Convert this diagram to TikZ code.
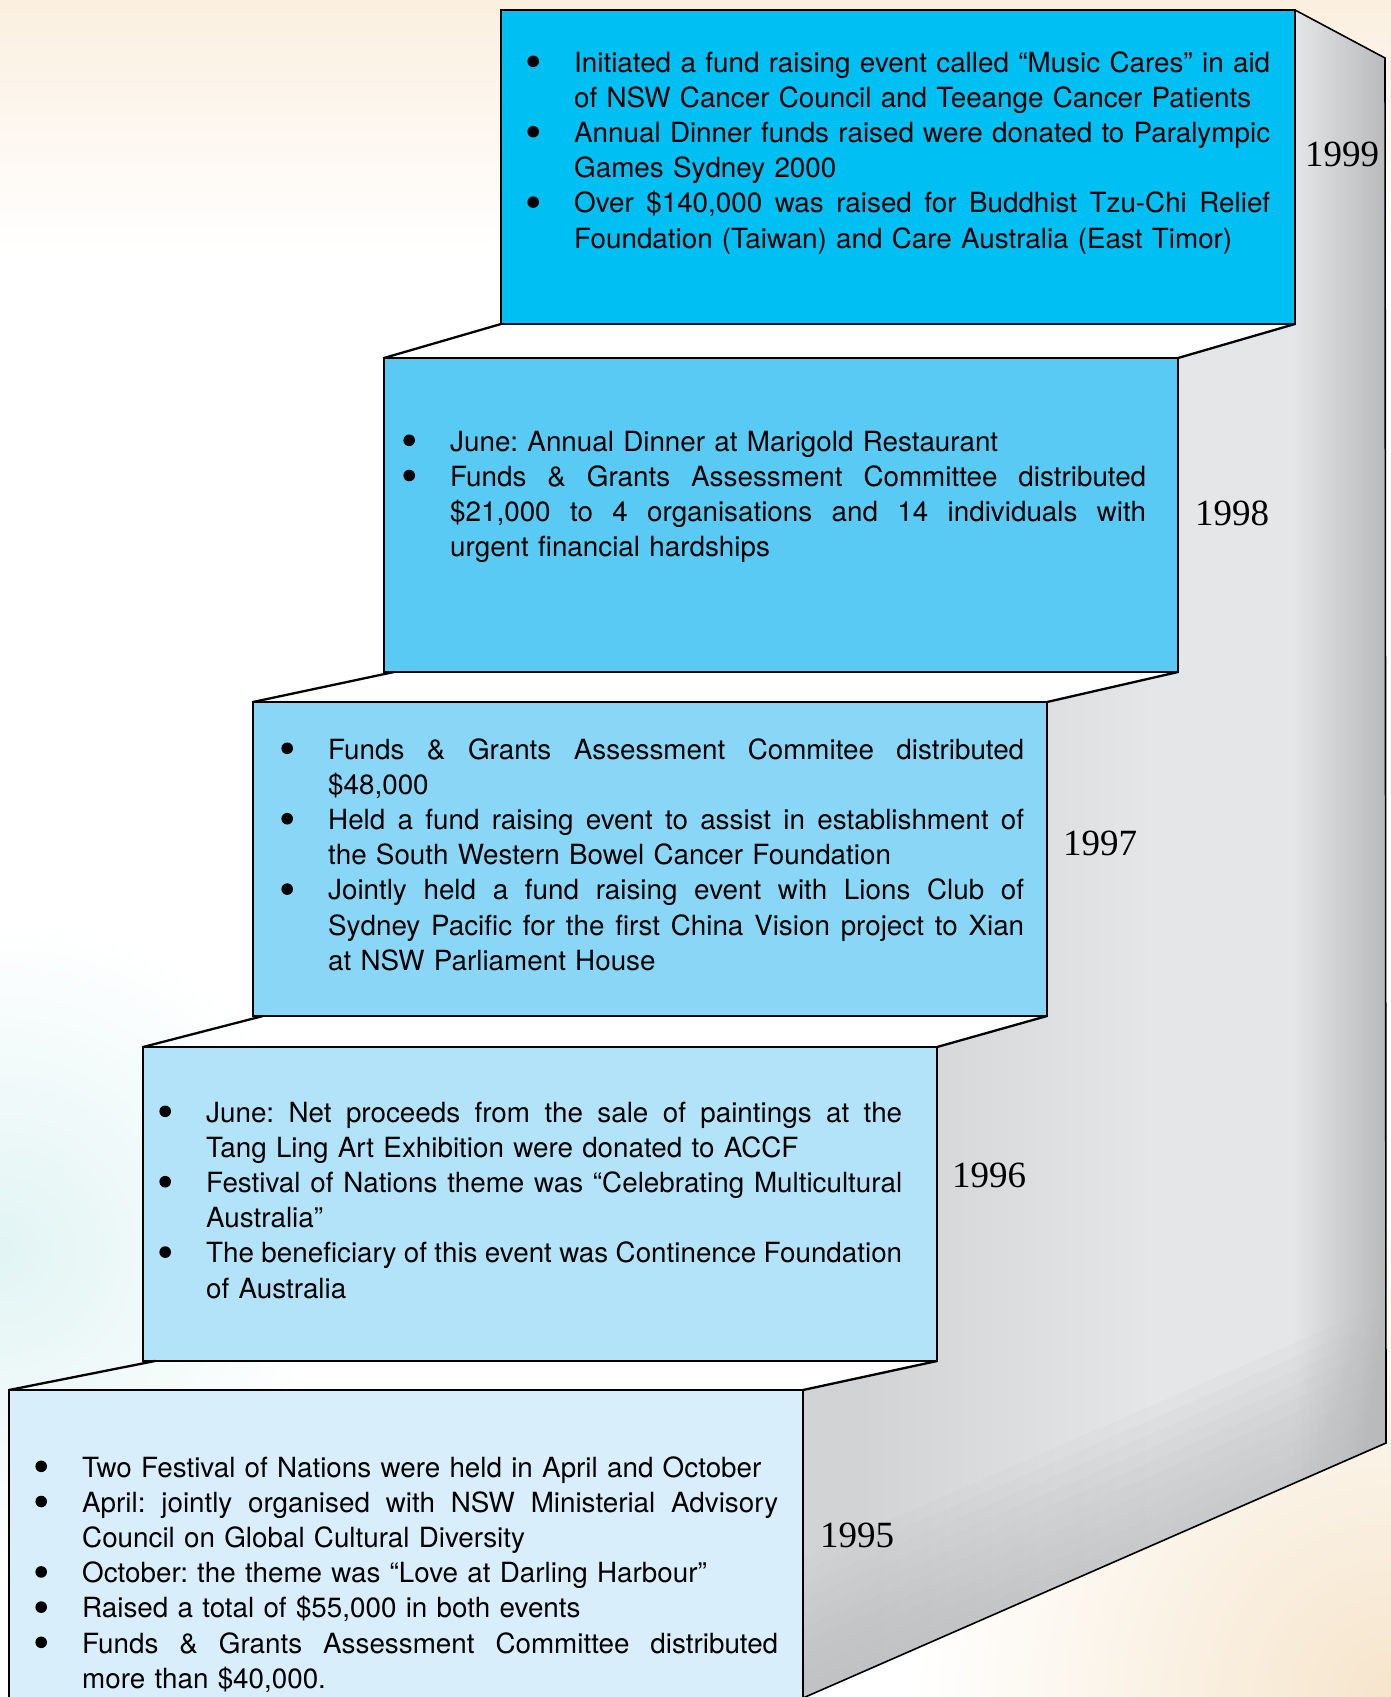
\documentclass[tikz,border=0pt]{standalone}
\usepackage{fontspec}
\setmainfont{TeX Gyre Heros}[WordSpace=1.2]
\newfontfamily\yearfont{Liberation Serif}
\frenchspacing

\definecolor{c99}{HTML}{00BFF3}
\definecolor{c98}{HTML}{58CAF4}
\definecolor{c97}{HTML}{8AD6F7}
\definecolor{c96}{HTML}{B2E3F9}
\definecolor{c95}{HTML}{D8EFFB}
\definecolor{sidelight}{HTML}{E5E6E8}
\definecolor{sidemid}{HTML}{D2D3D5}
\definecolor{sidedark}{HTML}{B9BABC}
\definecolor{peach}{HTML}{FBEFDF}
\definecolor{peachlow}{HTML}{F6E5CC}
\definecolor{mint}{HTML}{E2F4F4}

\pgfdeclarehorizontalshading{sidewall}{100bp}{color(0bp)=(sidemid);
  color(30bp)=(sidemid); color(55bp)=(sidelight); color(67bp)=(sidelight);
  color(75bp)=(sidedark); color(100bp)=(sidedark)}

\pgfdeclarelayer{back}
\pgfsetlayers{back,main}

% bullets of a step
\newcommand{\evtmark}{\llap{\tikz[baseline=0pt]\fill (0pt,10.7pt) circle (5.8pt);\hspace{35.2pt}}}
\newcommand{\evt}{\par\noindent\evtmark}

\begin{document}
\begin{tikzpicture}[x=1pt,y=-1pt,
  stepbox/.style={draw,line width=2.6pt,inner sep=0pt,outer sep=0pt,
    minimum width=794pt,minimum height=314pt,anchor=north west},
  tread/.style={line width=2.3pt},
  evtext/.style={inner sep=0pt,anchor=base west,text width=696pt,align=justify,
    font={\fontsize{27.8}{35.2}\selectfont\tolerance=10000 \hyphenpenalty=10000 }},
  yearlbl/.style={font=\yearfont\fontsize{37}{40}\selectfont}]
  \useasboundingbox (0,0) rectangle (1391,1697);
  % The steps, top one first
  \node[stepbox,fill=c99] (b99) at (501,10)   {};
  \node[stepbox,fill=c98] (b98) at (384,358)  {};
  \node[stepbox,fill=c97] (b97) at (253,702)  {};
  \node[stepbox,fill=c96] (b96) at (143,1047) {};
  \node[stepbox,fill=c95] (b95) at (9,1390)   {};
  % Treads between the steps
  \draw[tread] (b98.north west) -- (b99.south west);
  \draw[tread] (b98.north east) -- (b99.south east);
  \draw[tread] (b97.north west) -- ([xshift=10pt]b98.south west);
  \draw[tread] (b97.north east) -- (b98.south east);
  \draw[tread] (b96.north west) -- ([xshift=10pt]b97.south west);
  \draw[tread] (b96.north east) -- (b97.south east);
  \draw[tread] (b95.north west) -- ([xshift=12pt]b96.south west);
  \draw[tread] (b95.north east) -- (b96.south east);
  % Side wall and background
  \coordinate (tr) at (1385,58);
  \coordinate (br) at (1386,1443);
  \coordinate (bl) at (803,1698);
  \begin{pgfonlayer}{back}
    \fill[white] (0,0) rectangle (1391,1697);
    \shade[top color=peach,bottom color=white] (0,0) rectangle (1391,250);
    \shade[inner color=mint,outer color=white] (0,1250) circle (330);
    \shade[inner color=peachlow,outer color=white] (1391,1697) circle (480);
    \shade[shading=sidewall,path picture={
        \foreach \i in {1,...,10}
          \fill[sidedark,fill opacity=0.08] (bl) -- (br)
            -- ([yshift=\i*14pt]br) -- ([yshift=\i*14pt]bl) -- cycle;}]
      (b99.north east) -- (tr) -- (br) -- (bl) -- (b95.north east)
      -- (b96.south east) -- (b96.north east) -- (b97.south east)
      -- (b97.north east) -- (b98.south east) -- (b98.north east)
      -- (b99.south east) -- cycle;
    \draw[line width=1.6pt] (b99.north east) -- (tr) -- (br) -- (bl);
  \end{pgfonlayer}
  % Texts of the steps
  \node[evtext] (t99) at (574,72) {%
    \evtmark Initiated a fund raising event called “Music Cares” in aid\linebreak
    of NSW Cancer Council and Teeange Cancer Patients
    \evt Annual Dinner funds raised were donated to Paralympic\linebreak
    Games Sydney 2000
    \evt Over \$140,000 was raised for Buddhist Tzu-Chi Relief\linebreak
    Foundation (Taiwan) and Care Australia (East Timor)};
  \node[evtext] (t98) at (450,451) {%
    \evtmark June: Annual Dinner at Marigold Restaurant
    \evt Funds \& Grants Assessment Committee distributed\linebreak
    \$21,000 to 4 organisations and 14 individuals with\linebreak
    urgent financial hardships};
  \node[evtext] (t97) at (328,759) {%
    \evtmark Funds \& Grants Assessment Commitee distributed\linebreak
    \$48,000
    \evt Held a fund raising event to assist in establishment of\linebreak
    the South Western Bowel Cancer Foundation
    \evt Jointly held a fund raising event with Lions Club of\linebreak
    Sydney Pacific for the first China Vision project to Xian\linebreak
    at NSW Parliament House};
  \node[evtext] (t96) at (206,1122) {%
    \evtmark June: Net proceeds from the sale of paintings at the\linebreak
    Tang Ling Art Exhibition were donated to ACCF
    \evt Festival of Nations theme was “Celebrating Multicultural\linebreak
    Australia”
    \evt The beneficiary of this event was Continence Foundation\linebreak
    of Australia};
  \node[evtext] (t95) at (82,1477) {%
    \evtmark Two Festival of Nations were held in April and October
    \evt April: jointly organised with NSW Ministerial Advisory\linebreak
    Council on Global Cultural Diversity
    \evt October: the theme was “Love at Darling Harbour”
    \evt Raised a total of \$55,000 in both events
    \evt Funds \& Grants Assessment Committee distributed\linebreak
    more than \$40,000.};
  % Years on the side wall
  \node[yearlbl] (y99) at (1342,154)  {1999};
  \node[yearlbl] (y98) at (1232,513)  {1998};
  \node[yearlbl] (y97) at (1100,843)  {1997};
  \node[yearlbl] (y96) at (989,1175)  {1996};
  \node[yearlbl] (y95) at (857,1535)  {1995};
\end{tikzpicture}
\end{document}
